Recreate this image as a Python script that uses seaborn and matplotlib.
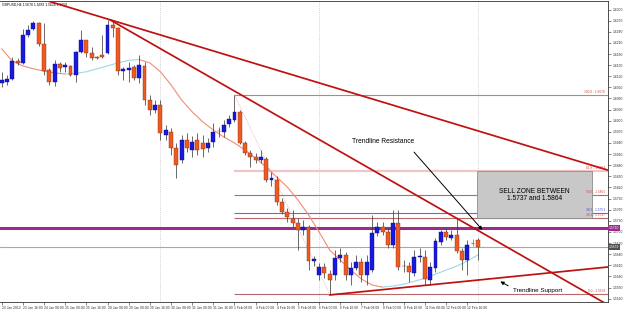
import numpy as np
import pandas as pd
import matplotlib
matplotlib.use("Agg")
import matplotlib.pyplot as plt
from matplotlib.patches import Rectangle
import seaborn as sns

# ---------------- data ----------------
title_text = "GBPUSD,H4 1.5678 1.5683 1.5624 1.5659"

date_labels = ["23 Jan 2013", "23 Jan 16:00", "24 Jan 08:00", "25 Jan 00:00", "25 Jan 16:00",
               "28 Jan 08:00", "29 Jan 00:00", "29 Jan 16:00", "30 Jan 08:00", "31 Jan 00:00",
               "31 Jan 16:00", "1 Feb 08:00", "4 Feb 00:00", "4 Feb 16:00", "5 Feb 08:00",
               "6 Feb 00:00", "6 Feb 16:00", "7 Feb 08:00", "8 Feb 00:00", "8 Feb 16:00",
               "11 Feb 08:00", "12 Feb 00:00", "12 Feb 16:00"]

opens = [1.6102,1.6105,1.6113,1.6161,1.6156,1.6232,1.6248,1.6264,1.6207,1.6137,
         1.6105,1.6153,1.6145,1.6148,1.6124,1.6186,1.6218,1.6183,1.6172,1.6178,
         1.6183,1.6259,1.6250,1.6134,1.6137,1.6145,1.6115,1.6148,1.6056,1.6029,
         1.6043,1.5962,1.5970,1.5926,1.5894,1.5948,1.5921,1.5948,1.5940,1.5926,
         1.5943,1.5972,1.5970,1.5991,1.6002,1.6024,1.5940,1.5913,1.5902,1.5894,
         1.5897,1.5840,1.5840,1.5781,1.5754,1.5735,1.5724,1.5705,1.5713,1.5621,
         1.5584,1.5605,1.5586,1.5584,1.5629,1.5638,1.5584,1.5602,1.5619,1.5584,
         1.5597,1.5697,1.5713,1.5700,1.5665,1.5724,1.5608,1.5608,1.5589,1.5632,
         1.5632,1.5570,1.5602,1.5673,1.5700,1.5683,1.5692,1.5648,1.5624,1.5670,
         1.5678]
highs = [1.6132,1.6124,1.6172,1.6169,1.6248,1.6259,1.6269,1.6267,1.6264,1.6142,
         1.6164,1.6159,1.6159,1.6151,1.6188,1.6245,1.6218,1.6199,1.6175,1.6232,
         1.6272,1.6272,1.6253,1.6145,1.6159,1.6151,1.6178,1.6159,1.6070,1.6056,
         1.6056,1.5989,1.5980,1.5940,1.5962,1.5967,1.5959,1.5967,1.5962,1.5953,
         1.5994,1.5983,1.6002,1.6016,1.6070,1.6029,1.5945,1.5921,1.5913,1.5921,
         1.5902,1.5862,1.5851,1.5791,1.5764,1.5759,1.5737,1.5732,1.5719,1.5635,
         1.5616,1.5616,1.5597,1.5651,1.5656,1.5646,1.5619,1.5638,1.5629,1.5638,
         1.5746,1.5727,1.5727,1.5710,1.5759,1.5759,1.5624,1.5619,1.5651,1.5656,
         1.5651,1.5619,1.5683,1.5705,1.5710,1.5705,1.5737,1.5656,1.5678,1.5681,
         1.5683]
lows = [1.6091,1.6097,1.6110,1.6151,1.6153,1.6226,1.6245,1.6202,1.6124,1.6097,
        1.6094,1.6132,1.6132,1.6121,1.6105,1.6183,1.6172,1.6164,1.6167,1.6169,
        1.6180,1.6226,1.6124,1.6110,1.6105,1.6110,1.6102,1.6043,1.6016,1.6021,
        1.5948,1.5948,1.5908,1.5845,1.5886,1.5916,1.5902,1.5908,1.5902,1.5916,
        1.5929,1.5956,1.5956,1.5983,1.5997,1.5937,1.5908,1.5875,1.5886,1.5886,
        1.5835,1.5824,1.5773,1.5748,1.5727,1.5713,1.5651,1.5692,1.5597,1.5608,
        1.5570,1.5575,1.5532,1.5570,1.5619,1.5570,1.5557,1.5597,1.5565,1.5557,
        1.5592,1.5689,1.5692,1.5656,1.5656,1.5597,1.5592,1.5565,1.5581,1.5619,
        1.5557,1.5557,1.5592,1.5665,1.5678,1.5678,1.5643,1.5597,1.5584,1.5662,
        1.5624]
closes = [1.6110,1.6113,1.6161,1.6156,1.6232,1.6245,1.6264,1.6207,1.6134,1.6105,
          1.6153,1.6142,1.6151,1.6124,1.6186,1.6218,1.6183,1.6169,1.6170,1.6172,
          1.6259,1.6250,1.6134,1.6140,1.6142,1.6115,1.6151,1.6056,1.6029,1.6043,
          1.5967,1.5975,1.5926,1.5881,1.5948,1.5926,1.5943,1.5921,1.5924,1.5940,
          1.5970,1.5971,1.5989,1.6005,1.6024,1.5940,1.5913,1.5902,1.5894,1.5902,
          1.5840,1.5845,1.5781,1.5754,1.5740,1.5724,1.5705,1.5713,1.5621,1.5627,
          1.5605,1.5589,1.5570,1.5629,1.5638,1.5584,1.5602,1.5619,1.5584,1.5619,
          1.5697,1.5713,1.5700,1.5665,1.5724,1.5605,1.5607,1.5592,1.5632,1.5635,
          1.5573,1.5605,1.5675,1.5700,1.5686,1.5692,1.5648,1.5624,1.5665,1.5670,
          1.5659]

ma_bars = list(range(0, 91, 2))
ma_values = [1.6194,1.6161,1.6148,1.6140,1.6134,1.6129,1.6126,1.6128,1.6132,1.6140,
             1.6148,1.6156,1.6163,1.6165,1.6156,1.6132,1.6097,1.6056,1.6024,1.5997,
             1.5975,1.5956,1.5940,1.5921,1.5899,1.5875,1.5848,1.5821,1.5786,1.5746,
             1.5700,1.5651,1.5624,1.5597,1.5573,1.5557,1.5551,1.5554,1.5559,1.5567,
             1.5575,1.5586,1.5597,1.5608,1.5621,1.5638]

# trendlines: (bar, price) endpoints
resist_long = [(-1.0, 1.6365), (115.0, 1.5865)]
resist_steep = [(20.5, 1.6272), (115.0, 1.5500)]
support_line = [(62.0, 1.5530), (115.0, 1.5606)]

fib_start_bar = 44
fib_names = ["0.0", "38.2", "50.0", "61.8", "100.0"]
fib_prices = [1.5532, 1.5737, 1.5801, 1.5864, 1.6070]
extra_level = 1.5751
magenta_level = 1.5710
bid_price = 1.5659
sell_zone = [1.5737, 1.5864]
separators = [30, 60, 90]
price_ticks = [round(1.5520 + 0.0030 * k, 4) for k in range(27)]

# ---------------- figure ----------------
sns.set_theme(style="white")
plt.rcParams['font.family'] = ['Liberation Sans', 'DejaVu Sans']

W, H = 625, 310
fig = plt.figure(figsize=(W / 100, H / 100), dpi=100)
fig.patch.set_facecolor("white")
ax = fig.add_axes([0.0, 8 / H, 608 / W, 301 / H])
ax.set_facecolor("white")

px_bar = 5.29
x0 = -1.7 / px_bar
ax.set_xlim(x0, x0 + 608 / px_bar)
ax.set_ylim(1.5511, 1.6323)
xr = ax.get_xlim()[1]

O = np.array(opens); Hh = np.array(highs); L = np.array(lows); C = np.array(closes)
x = np.arange(len(O))
bull = C > O
bear = C < O
doji = C == O

# separators
for s in separators:
    ax.axvline(s, color="#c4c4c4", lw=0.6, ls=(0, (1, 1.5)), zorder=0)

# horizontal full-width lines
ax.axhline(magenta_level, color="#9b2d8a", lw=2.2, zorder=2)
ax.axhline(bid_price, color="#a8a8a8", lw=0.8, zorder=2)

# fib lines
fib_colors = {"0.0": "#b86a6a", "38.2": "#b86a6a", "50.0": "#b86a6a", "61.8": "#f2c4c4", "100.0": "#c08080"}
fib_lw = {"0.0": 0.8, "38.2": 0.8, "50.0": 0.8, "61.8": 1.6, "100.0": 0.8}
for nm, pr in zip(fib_names, fib_prices):
    ax.hlines(pr, fib_start_bar, xr, color=fib_colors[nm], lw=fib_lw[nm], zorder=1)
    ax.text(xr - 0.6, pr + 0.0002, f"{nm} - {pr:.4f}", ha="right", va="bottom",
            fontsize=2.3, color="#d04848", zorder=6)
ax.hlines(extra_level, fib_start_bar, xr, color="#6a6ad8", lw=0.8, zorder=1)
ax.text(xr - 0.6, extra_level + 0.0002, f"38.2 - {extra_level:.4f}", ha="right", va="bottom",
        fontsize=2.3, color="#4a4ad0", zorder=6)
# fib diagonal
ax.plot([fib_start_bar, 62], [fib_prices[-1], fib_prices[0]], color="#e0a0a0", lw=0.6,
        ls=(0, (1, 1.5)), zorder=1)

# sell zone box
ax.add_patch(Rectangle((89.9, sell_zone[0]), 111.6 - 89.9, sell_zone[1] - sell_zone[0],
                       facecolor="#c8c8c8", edgecolor="#8c8c8c", lw=0.6, zorder=2))
ax.text(100.7, (sell_zone[0] + sell_zone[1]) / 2, f"SELL ZONE BETWEEN\n{sell_zone[0]:.4f} and {sell_zone[1]:.4f}",
        ha="center", va="center", fontsize=4.8, color="black", linespacing=1.0, zorder=7)

# moving average, coloured by slope
ma = pd.DataFrame({"bar": ma_bars, "value": ma_values})
d = np.sign(np.diff(ma_values))
start = 0
for i in range(1, len(d) + 1):
    if i == len(d) or (d[i] != 0 and d[i] != d[start]):
        seg = ma.iloc[start:i + 1]
        col = "#9ed6ea" if d[start] > 0 else "#f08c7a"
        sns.lineplot(data=seg, x="bar", y="value", color=col, lw=0.8, ax=ax,
                     sort=False, estimator=None, zorder=3)
        start = i

# candles
bw = 0.74
ax.vlines(x[~doji], L[~doji], Hh[~doji], color="#404040", lw=0.55, zorder=4)
ax.bar(x[bull], (C - O)[bull], bottom=O[bull], width=bw, color="#1818e0",
       edgecolor="#0a0a80", lw=0.3, zorder=5)
ax.bar(x[bear], (C - O)[bear], bottom=O[bear], width=bw, color="#ee5a22",
       edgecolor="#8a3210", lw=0.3, zorder=5)
ax.vlines(x[doji], L[doji], Hh[doji], color="#34b834", lw=0.6, zorder=4)
ax.hlines(O[doji], x[doji] - bw / 2, x[doji] + bw / 2, color="#34b834", lw=0.8, zorder=5)

# trendlines
for ln in (resist_long, resist_steep, support_line):
    df = pd.DataFrame(ln, columns=["bar", "price"])
    sns.lineplot(data=df, x="bar", y="price", color="#c01010", lw=1.25, ax=ax,
                 sort=False, estimator=None, zorder=6)

# annotations
ax.text(66.2, 1.5943, "Trendline Resistance", ha="left", va="center", fontsize=4.8, color="black", zorder=7)
ax.annotate("", xy=(91.2, 1.5700), xytext=(77.6, 1.5921),
            arrowprops=dict(arrowstyle="-|>", color="black", lw=0.7, mutation_scale=5), zorder=7)
ax.text(96.6, 1.5543, "Trendline Support", ha="left", va="center", fontsize=4.5, color="black", zorder=7)
ax.annotate("", xy=(93.8, 1.5570), xytext=(96.2, 1.5551),
            arrowprops=dict(arrowstyle="-|>", color="black", lw=0.7, mutation_scale=5), zorder=7)

ax.text(0.004, 0.996, title_text, transform=ax.transAxes, ha="left", va="top", fontsize=2.4, color="black")

# axes styling
ax.spines["left"].set_visible(False)
for sp in ["right", "bottom", "top"]:
    ax.spines[sp].set_color("#303030")
    ax.spines[sp].set_linewidth(0.6)

ax.yaxis.tick_right()
ax.set_yticks(price_ticks)
ax.set_yticklabels([f"{p:.4f}" for p in price_ticks])
ax.tick_params(axis="y", which="both", right=True, length=2, width=0.4, pad=1.5,
               labelsize=2.4, colors="#303030")
ax.set_xticks(list(range(0, 4 * len(date_labels), 4)))
ax.set_xticklabels(date_labels)
ax.tick_params(axis="x", which="both", bottom=True, length=2, width=0.4, pad=1.0,
               labelsize=2.4, colors="#303030")
for lab in ax.get_xticklabels():
    lab.set_ha("left")
ax.set_xlabel("")
ax.set_ylabel("")
ax.grid(False)
if ax.get_legend() is not None:
    ax.get_legend().remove()

# price tags on the axis
ylo, yhi = ax.get_ylim()
ax.text(1.002, (magenta_level - ylo) / (yhi - ylo), f"{magenta_level:.4f}", transform=ax.transAxes,
        ha="left", va="center", fontsize=2.4, color="white",
        bbox=dict(boxstyle="square,pad=0.25", fc="#9b2d8a", ec="none"), zorder=8, clip_on=False)
ax.text(1.002, (bid_price - ylo) / (yhi - ylo), f"{bid_price:.4f}", transform=ax.transAxes,
        ha="left", va="center", fontsize=2.4, color="white",
        bbox=dict(boxstyle="square,pad=0.25", fc="#505050", ec="none"), zorder=8, clip_on=False)

fig.savefig("out.png", dpi=100)
